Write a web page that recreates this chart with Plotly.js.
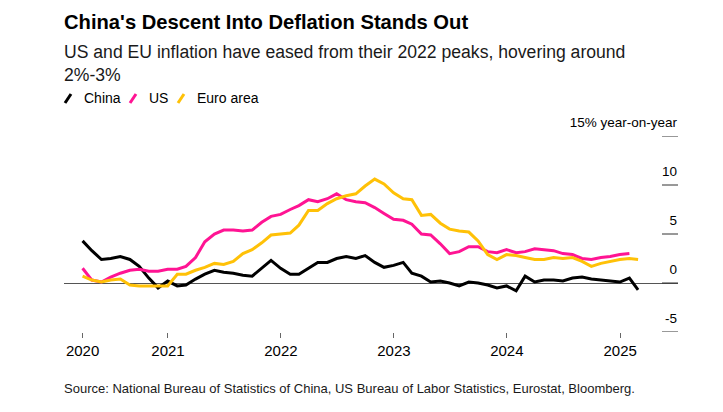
<!DOCTYPE html>
<html><head><meta charset="utf-8">
<script src="https://cdn.plot.ly/plotly-3.0.1.min.js"></script>
<style>html,body{margin:0;padding:0;background:#fff}#chart{width:723px;height:412px}</style>
</head><body><div id="chart"></div>
<script>
// ---- data (monthly, year-on-year %) ----
const startMonth = [2020, 3]; // first observation: March 2020
const china = [4.3, 3.3, 2.4, 2.5, 2.7, 2.4, 1.7, 0.5, -0.5, 0.2,
  -0.3, -0.2, 0.4, 0.9, 1.3, 1.1, 1.0, 0.8, 0.7, 1.5, 2.3, 1.5,
  0.9, 0.9, 1.5, 2.1, 2.1, 2.5, 2.7, 2.5, 2.8, 2.1, 1.6, 1.8,
  2.1, 1.0, 0.7, 0.1, 0.2, 0.0, -0.3, 0.1, 0.0, -0.2, -0.5, -0.3,
  -0.8, 0.7, 0.1, 0.3, 0.3, 0.2, 0.5, 0.6, 0.4, 0.3, 0.2, 0.1,
  0.5, -0.7];
const us = [1.5, 0.3, 0.1, 0.6, 1.0, 1.3, 1.4, 1.2, 1.2, 1.4,
  1.4, 1.7, 2.6, 4.2, 5.0, 5.4, 5.4, 5.3, 5.4, 6.2, 6.8, 7.0,
  7.5, 7.9, 8.5, 8.3, 8.6, 9.1, 8.5, 8.3, 8.2, 7.7, 7.1, 6.5,
  6.4, 6.0, 5.0, 4.9, 4.0, 3.0, 3.2, 3.7, 3.7, 3.2, 3.1, 3.4,
  3.1, 3.2, 3.5, 3.4, 3.3, 3.0, 2.9, 2.5, 2.4, 2.6, 2.7, 2.9,
  3.0];
const euro = [0.7, 0.3, 0.1, 0.3, 0.4, -0.2, -0.3, -0.3, -0.3, -0.3,
  0.9, 0.9, 1.3, 1.6, 2.0, 1.9, 2.2, 3.0, 3.4, 4.1, 4.9, 5.0,
  5.1, 5.9, 7.4, 7.4, 8.1, 8.6, 8.9, 9.1, 9.9, 10.6, 10.1, 9.2,
  8.6, 8.5, 6.9, 7.0, 6.1, 5.5, 5.3, 5.2, 4.3, 2.9, 2.4, 2.9,
  2.8, 2.6, 2.4, 2.4, 2.6, 2.5, 2.6, 2.2, 1.7, 2.0, 2.2, 2.4,
  2.5, 2.4];
const seriesNames = ['China', 'US', 'Euro area'];
const seriesColors = ['#000000', '#ff1493', '#ffc107'];
const xTickVals = ['2020-03-31', '2021-01-01', '2022-01-01', '2023-01-01', '2024-01-01', '2025-01-01'];
const xTickText = ['2020', '2021', '2022', '2023', '2024', '2025'];
const yTickVals = [-5, 0, 5, 10, 15];
const yTickText = ['-5', '0', '5', '10', '15% year-on-year'];

// ---- helpers ----
function monthEnds(n) {
  const out = [];
  for (let i = 0; i < n; i++) {
    const y = startMonth[0] + Math.floor((startMonth[1] - 1 + i) / 12);
    const m = (startMonth[1] - 1 + i) % 12;
    out.push(new Date(Date.UTC(y, m + 1, 0)).toISOString().slice(0, 10));
  }
  return out;
}
const W = 723, H = 412, ML = 64, MR = 45, MT = 136, MB = 80;
const PW = W - ML - MR, PH = H - MT - MB;
const px = p => (p - ML) / PW;          // pixel x -> paper
const py = p => 1 - (p - MT) / PH;      // pixel y -> paper
const FONT = 'Liberation Sans, Arial, Helvetica, sans-serif';

const values = [china, us, euro];
const traces = values.map((v, i) => ({
  type: 'scatter', mode: 'lines', name: seriesNames[i],
  x: monthEnds(v.length), y: v,
  line: {color: seriesColors[i], width: 3},
  hoverinfo: 'skip'
}));

// legend (custom, slash icons)
const legendTextX = [84, 149, 197];
const legendY = 98;
const annotations = [
  {text: 'US and EU inflation have eased from their 2022 peaks, hovering around', x: 0, y: py(52)},
  {text: '2%-3%', x: 0, y: py(75)}
].map(a => Object.assign(a, {xref: 'paper', yref: 'paper', xanchor: 'left', yanchor: 'middle',
  showarrow: false, xshift: -2, font: {family: FONT, size: 17.6, color: '#1a1a1a'}}));
seriesNames.forEach((n, i) => annotations.push({
  text: n, xref: 'paper', yref: 'paper', x: px(legendTextX[i]), y: py(legendY),
  xanchor: 'left', yanchor: 'middle', showarrow: false, xshift: -2,
  font: {family: FONT, size: 14, color: '#000'}
}));
annotations.push({
  text: 'Source: National Bureau of Statistics of China, US Bureau of Labor Statistics, Eurostat, Bloomberg.',
  xref: 'paper', yref: 'paper', x: 0, y: py(388), xanchor: 'left', yanchor: 'middle',
  showarrow: false, xshift: -2, font: {family: FONT, size: 13, color: '#1a1a1a'}
});
const shapes = seriesNames.map((n, i) => ({
  type: 'line', xref: 'paper', yref: 'paper',
  x0: px(legendTextX[i] - 19), y0: py(legendY + 5), x1: px(legendTextX[i] - 13), y1: py(legendY - 4),
  line: {color: seriesColors[i], width: 3}
}));
// short y-axis tick marks at the right edge, one per y tick value
yTickVals.forEach(v => shapes.push({
  type: 'line', xref: 'paper', yref: 'y', x0: px(662), x1: 1, y0: v, y1: v,
  line: {color: '#333', width: 1}
}));

const layout = {
  width: W, height: H,
  margin: {l: ML, r: MR, t: MT, b: MB, pad: 0},
  paper_bgcolor: '#fff', plot_bgcolor: '#fff',
  showlegend: false,
  font: {family: FONT, color: '#000'},
  title: {
    text: "China's Descent Into Deflation Stands Out",
    x: 0, xref: 'paper', xanchor: 'left',
    y: 1 - 22 / H, yref: 'container', yanchor: 'middle',
    font: {family: FONT, size: 20.2, weight: 700, color: '#000'}
  },
  xaxis: {
    type: 'date', range: ['2020-01-31', '2025-07-07'],
    tickmode: 'array', tickvals: xTickVals, ticktext: xTickText,
    ticks: 'outside', ticklen: 5, tickwidth: 1, tickcolor: '#666',
    showgrid: false, zeroline: false, showline: false,
    tickfont: {family: FONT, size: 15, color: '#000'}, fixedrange: true
  },
  yaxis: {
    range: [-5, 15], side: 'right',
    tickmode: 'array', tickvals: yTickVals, ticktext: yTickText,
    ticks: '',
    ticklabelposition: 'inside top', ticklabeloverflow: 'allow',
    ticklabelstandoff: -2, ticklabelshift: -4,
    showgrid: false, showline: false,
    zeroline: true, zerolinecolor: '#555', zerolinewidth: 1,
    tickfont: {family: FONT, size: 13.5, color: '#000'}, fixedrange: true
  },
  annotations: annotations,
  shapes: shapes
};

Plotly.newPlot('chart', traces, layout, {displayModeBar: false, staticPlot: true});
</script>
</body></html>
